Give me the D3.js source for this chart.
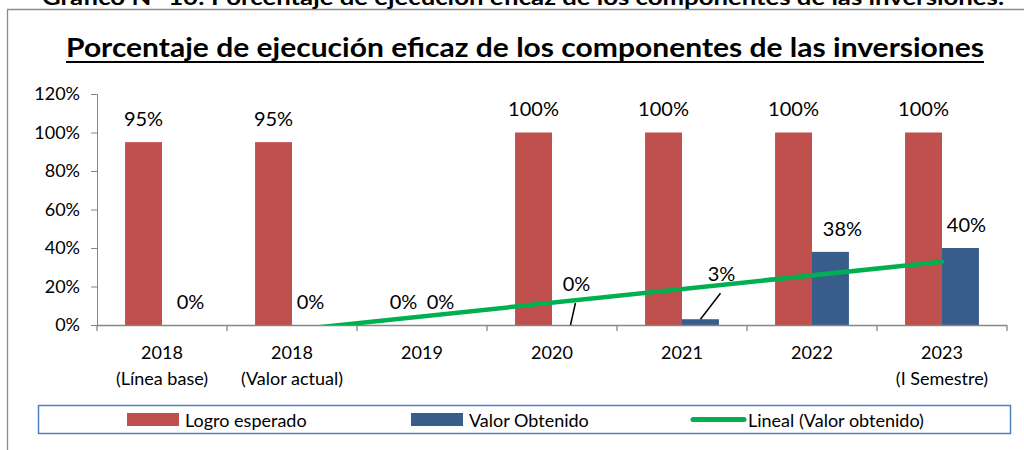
<!DOCTYPE html>
<html>
<head>
<meta charset="utf-8">
<script src="https://cdn.jsdelivr.net/npm/d3@7"></script>
<style>
  body { margin: 0; background: #fff; }
  svg { display: block; font-family: Lato, "Open Sans", sans-serif; }
</style>
</head>
<body>
<svg id="chart" width="1024" height="450"></svg>
<script>
// data
var categories = ["2018|(Línea base)", "2018|(Valor actual)", "2019", "2020", "2021", "2022", "2023|(I Semestre)"];
var logroEsperado = [0.95, 0.95, 0, 1, 1, 1, 1];
var valorObtenido = [0, 0, 0, 0, 0.03, 0.38, 0.40];
var yTicks = [0, 0.2, 0.4, 0.6, 0.8, 1.0, 1.2];
var legendLabels = ["Logro esperado", "Valor Obtenido", "Lineal (Valor obtenido)"];
var topCaption = "Gráfico N° 10: Porcentaje de ejecución eficaz de los componentes de las inversiones.";
var chartTitle = "Porcentaje de ejecución eficaz de los componentes de las inversiones";

var red = "#C0504D", blue = "#385D8A", green = "#00B050", axisGrey = "#868686";

var svg = d3.select("#chart");

// frame of the embedded chart object
svg.append("line").attr("x1", 7.5).attr("x2", 7.5).attr("y1", 9.5).attr("y2", 450)
    .attr("stroke", "#8c8c8c").attr("stroke-width", 1.3);
svg.append("line").attr("x1", 7).attr("x2", 1024).attr("y1", 9.5).attr("y2", 9.5)
    .attr("stroke", "#8c8c8c").attr("stroke-width", 1.3);

// caption of the document, cut off by the top edge (as in the original)
svg.append("text").attr("x", 523).attr("y", 5)
    .attr("text-anchor", "middle").attr("font-weight", "bold").attr("font-size", 21)
    .attr("textLength", 962).attr("lengthAdjust", "spacingAndGlyphs")
    .text(topCaption);

// title
svg.append("text").attr("x", 525).attr("y", 57)
    .attr("text-anchor", "middle").attr("font-weight", "bold").attr("font-size", 27)
    .attr("textLength", 918).attr("lengthAdjust", "spacingAndGlyphs")
    .text(chartTitle);
svg.append("line").attr("x1", 66).attr("x2", 984).attr("y1", 62).attr("y2", 62)
    .attr("stroke", "#000").attr("stroke-width", 2);

var x0 = d3.scaleBand().domain(d3.range(categories.length)).range([97, 1007]);
var x1 = d3.scaleBand().domain([0, 1]).range([0, x0.bandwidth()]).paddingInner(0).paddingOuter(0.76);
var y = d3.scaleLinear().domain([0, 1.2]).range([325, 94]);

var g = svg.append("g");

// y axis
var yAxis = g.append("g").attr("transform", "translate(97,0)")
    .call(d3.axisLeft(y).tickValues(yTicks).tickFormat(d3.format(".0%")).tickSizeOuter(0).tickSize(6));
yAxis.select(".domain").attr("stroke", axisGrey);
yAxis.selectAll(".tick line").attr("stroke", axisGrey);
yAxis.selectAll("text").attr("font-size", 18).attr("font-family", "Lato").attr("fill", "#000").attr("x", -17);

// bars
var series = [logroEsperado, valorObtenido];
var colors = [red, blue];
series.forEach(function (vals, s) {
    g.selectAll(".bar" + s).data(vals).enter().append("rect")
        .attr("class", "bar" + s)
        .attr("x", function (d, i) { return x0(i) + x1(s); })
        .attr("width", x1.bandwidth())
        .attr("y", function (d) { return y(d); })
        .attr("height", function (d) { return y(0) - y(d); })
        .attr("fill", colors[s]);
});

// x axis (ticks between categories)
var xa = g.append("g");
xa.append("line").attr("x1", 97).attr("x2", 1007).attr("y1", 325.5).attr("y2", 325.5)
    .attr("stroke", axisGrey).attr("stroke-width", 1.3);
xa.selectAll(".xt").data(d3.range(categories.length + 1)).enter().append("line")
    .attr("x1", function (i) { return 97 + i * x0.step(); })
    .attr("x2", function (i) { return 97 + i * x0.step(); })
    .attr("y1", 325).attr("y2", 331)
    .attr("stroke", axisGrey).attr("stroke-width", 1.3);
var catText = xa.selectAll(".cat").data(categories).enter().append("text")
    .attr("text-anchor", "middle").attr("font-size", 18)
    .attr("x", function (d, i) { return x0(i) + x0.bandwidth() / 2; })
    .attr("y", 359);
catText.each(function (d) {
    var t = d3.select(this);
    d.split("|").forEach(function (part, k) {
        t.append("tspan").attr("x", t.attr("x")).attr("dy", k ? 26 : 0).text(part);
    });
});

// linear trend of valor obtenido
var n = valorObtenido.length;
var xs = d3.range(1, n + 1);
var mx = d3.mean(xs), my = d3.mean(valorObtenido);
var slope = d3.sum(xs, function (v, i) { return (v - mx) * (valorObtenido[i] - my); }) /
            d3.sum(xs, function (v) { return (v - mx) * (v - mx); });
var icpt = my - slope * mx;
svg.append("clipPath").attr("id", "plotClip").append("rect")
    .attr("x", 97).attr("y", 94).attr("width", 910).attr("height", 231);
var cx = function (k) { return x0(k - 1) + x0.bandwidth() / 2; };
g.append("path").attr("clip-path", "url(#plotClip)")
    .datum([1, n])
    .attr("d", d3.line().x(function (k) { return cx(k); }).y(function (k) { return y(icpt + slope * k); }))
    .attr("stroke", green).attr("stroke-width", 4.5).attr("stroke-linecap", "round").attr("fill", "none");

// data labels; nudges copy the manually dragged labels of the original
var nudge = [
    [[0, 0], [0, 0], [0, 0], [0, -1], [0, -1], [0, -1], [0, -1]],
    [[10, 0], [0, 0], [0, 0], [6, -18], [21, -22], [12, 0], [6, 0]]
];
var leader = [[], [3, 4]];
series.forEach(function (vals, s) {
    vals.forEach(function (v, i) {
        var bx = x0(i) + x1(s) + x1.bandwidth() / 2;
        var lx = bx + nudge[s][i][0];
        var ly = y(v) - 24 + nudge[s][i][1];
        g.append("text").attr("x", lx).attr("y", ly)
            .attr("text-anchor", "middle").attr("dominant-baseline", "central")
            .attr("font-size", 20).text(d3.format(".0%")(v));
        if (leader[s].indexOf(i) >= 0) {
            g.append("line").attr("x1", lx - 1).attr("y1", ly + 20)
                .attr("x2", bx).attr("y2", y(v))
                .attr("stroke", "#000").attr("stroke-width", 1.5);
        }
    });
});

// legend
var lg = svg.append("g");
lg.append("rect").attr("x", 38.5).attr("y", 405.5).attr("width", 972).attr("height", 28)
    .attr("fill", "#fff").attr("stroke", "#4F81BD").attr("stroke-width", 1.5);
var legendX = [127, 411, 690];
legendLabels.forEach(function (lab, k) {
    if (k < 2) {
        lg.append("rect").attr("x", legendX[k]).attr("y", 413).attr("width", 52).attr("height", 13)
            .attr("fill", colors[k]);
    } else {
        lg.append("line").attr("x1", legendX[k] + 3).attr("x2", legendX[k] + 54)
            .attr("y1", 419.5).attr("y2", 419.5)
            .attr("stroke", green).attr("stroke-width", 5).attr("stroke-linecap", "round");
    }
    lg.append("text").attr("x", legendX[k] + 58).attr("y", 420)
        .attr("dominant-baseline", "central").attr("font-size", 18).text(lab);
});
</script>
</body>
</html>
